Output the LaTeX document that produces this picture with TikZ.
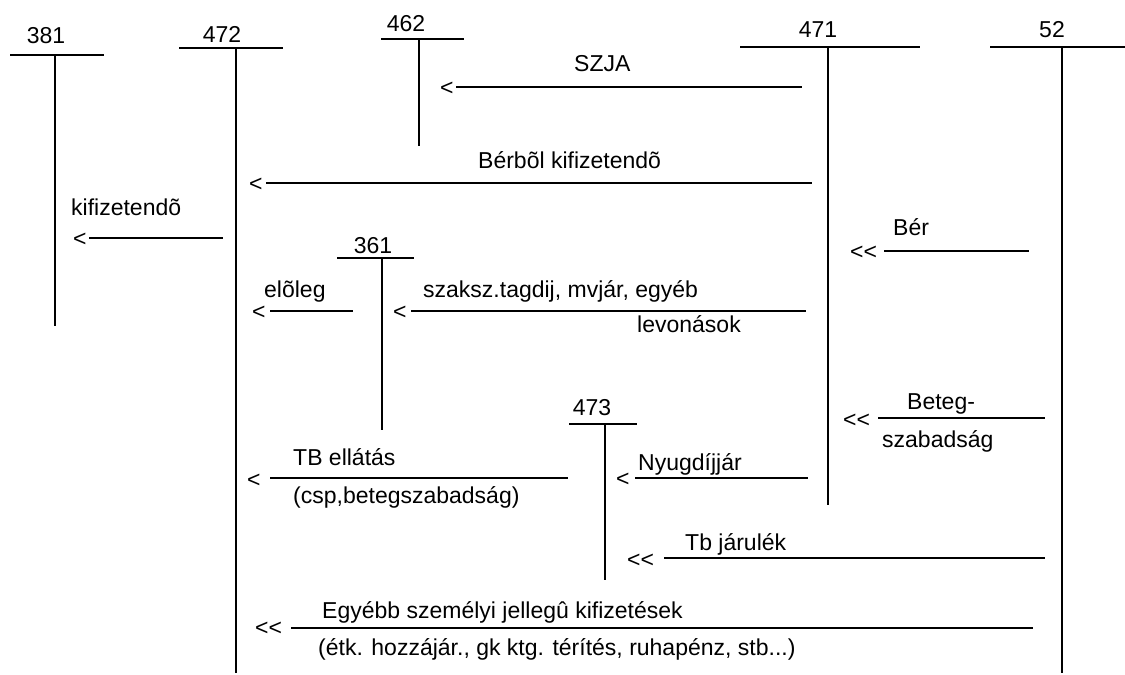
\documentclass[tikz,border=0pt]{standalone}
\usepackage{fontspec}
\setmainfont{Liberation Sans}
\newcommand\labfont{\fontsize{23}{27}\selectfont}
\newcommand\dlt{<\kern0pt<}
\tikzset{
  tline/.style={line width=2.7pt},
  aline/.style={line width=2.2pt},
  txt/.style={inner sep=0pt, anchor=base west, font=\labfont},
  num/.style={inner sep=0pt, anchor=base, font=\labfont},
}
\begin{document}
\begin{tikzpicture}[x=1pt,y=-1pt]
\useasboundingbox (0,0) rectangle (1125,675);
% T-accounts
\foreach \n/\lx/\ly/\ba/\bb/\by/\vx/\vb in {
  381/46/43/10/104/55/55/326,
  472/222/42/179/283/48/236/673,
  462/406/31/381/464/39/419/146,
  471/818/37/740/920/47/828/505,
  52/1052/37/990/1125/47/1062/673,
  361/373/253/337/414/258/382/430,
  473/592/415/569/637/424/605/580}{
  \node[num] (lab\n) at (\lx,\ly) {\n};
  \coordinate (bl\n) at (\ba,\by);
  \coordinate (br\n) at (\bb,\by);
  \coordinate (vt\n) at (\vx,\by);
  \coordinate (vb\n) at (\vx,\vb);
  \draw[tline] (bl\n) -- (br\n);
  \draw[tline] (vt\n) -- (vb\n);
}
% SZJA
\node[txt] (mSzja) at (440,95) {<};
\coordinate (sSzja) at (456,87); \coordinate (eSzja) at (802,87);
\draw[aline] (sSzja) -- (eSzja);
\node[txt] (tSzja) at (574,71) {SZJA};
% Berbol kifizetendo
\node[txt] (mBerb) at (249,191) {<};
\coordinate (sBerb) at (266,183); \coordinate (eBerb) at (812,183);
\draw[aline] (sBerb) -- (eBerb);
\node[txt] (tBerb) at (478,168) {Bérbõl kifizetendõ};
% kifizetendo
\node[txt] (mKif) at (73,246) {<};
\coordinate (sKif) at (89,238); \coordinate (eKif) at (223,238);
\draw[aline] (sKif) -- (eKif);
\node[txt] (tKif) at (71,215) {kifizetendõ};
% Ber
\node[txt] (mBer) at (850,259) {\dlt};
\coordinate (sBer) at (884,251); \coordinate (eBer) at (1029,251);
\draw[aline] (sBer) -- (eBer);
\node[txt] (tBer) at (893,235) {Bér};
% eloleg
\node[txt] (mElo) at (252,319) {<};
\coordinate (sElo) at (270,311); \coordinate (eElo) at (353,311);
\draw[aline] (sElo) -- (eElo);
\node[txt] (tElo) at (264,297) {elõleg};
% szaksz
\node[txt] (mSzak) at (393,319) {<};
\coordinate (sSzak) at (411,311); \coordinate (eSzak) at (806,311);
\draw[aline] (sSzak) -- (eSzak);
\node[txt] (tSzak) at (423,297) {szaksz.tagdij, mvjár, egyéb};
\node[txt] (tLev) at (637,332) {levonások};
% Beteg
\node[txt] (mBet) at (843,427) {\dlt};
\coordinate (sBet) at (878,418); \coordinate (eBet) at (1045,418);
\draw[aline] (sBet) -- (eBet);
\node[txt] (tBet) at (907,409) {Beteg-};
\node[txt] (tSzab) at (882,447) {szabadság};
% TB ellatas
\node[txt] (mTB) at (247,487) {<};
\coordinate (sTB) at (270,478); \coordinate (eTB) at (568,478);
\draw[aline] (sTB) -- (eTB);
\node[txt] (tTB) at (293,465) {TB ellátás};
\node[txt] (tCsp) at (293,503) {(csp,betegszabadság)};
% Nyugdijjar
\node[txt] (mNy) at (616,486) {<};
\coordinate (sNy) at (635,478); \coordinate (eNy) at (808,478);
\draw[aline] (sNy) -- (eNy);
\node[txt] (tNy) at (638,470) {Nyugdíjjár};
% Tb jarulek
\node[txt] (mTbj) at (627,567) {\dlt};
\coordinate (sTbj) at (664,558); \coordinate (eTbj) at (1045,558);
\draw[aline] (sTbj) -- (eTbj);
\node[txt] (tTbj) at (685,550) {Tb járulék};
% Egyebb
\node[txt] (mEgy) at (255,635) {\dlt};
\coordinate (sEgy) at (291,628); \coordinate (eEgy) at (1033,628);
\draw[aline] (sEgy) -- (eEgy);
\node[txt] (tEgy) at (322,618) {Egyébb személyi jellegû kifizetések};
\node[txt] (tEtk) at (318,655) {(étk. hozzájár., gk ktg. térítés, ruhapénz, stb...)};
\end{tikzpicture}
\end{document}
